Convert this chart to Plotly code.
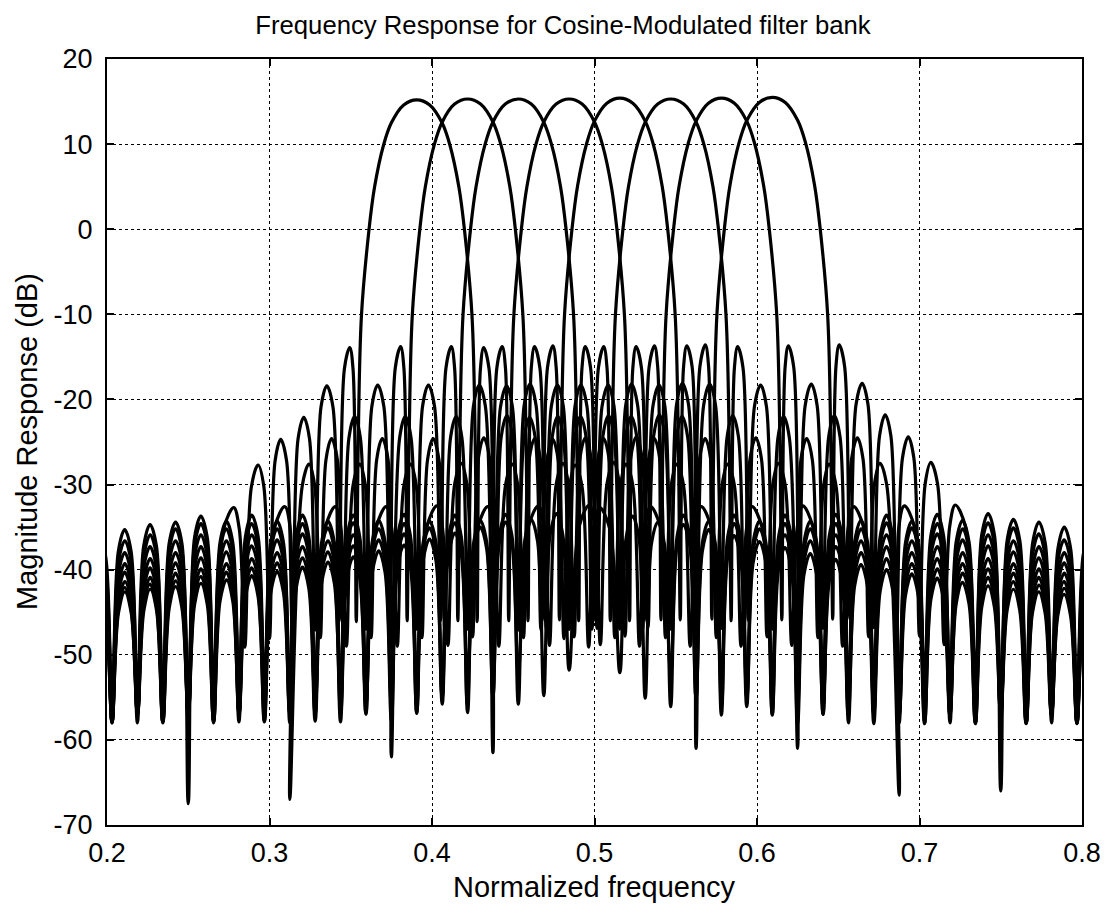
import plotly.graph_objects as go

# ---- data ----
# centre frequency and peak gain of each of the 8 plotted channel filters
centers = [0.3906, 0.4219, 0.4531, 0.4844, 0.5156, 0.5469, 0.5781, 0.6094]
peak_db = [15.2, 15.3, 15.3, 15.3, 15.4, 15.3, 15.4, 15.5]

# common (prototype) response, one side, as offset from the filter centre
main_offset = [0.0000, 0.0080, 0.0156, 0.0204, 0.0260, 0.0294, 0.0340, 0.0360, 0.0372]
main_db = [15.3, 14.7, 12.6, 10.0, 5.0, 0.0, -10.0, -25.0, -46.0]

# transition-band side lobes (peak, shoulder level, following null)
near_peak_offset = [0.0412, 0.0553, 0.0695, 0.0837, 0.0976, 0.1126]
near_peak_db = [-13.8, -18.3, -22.0, -24.6, -27.6, -32.6]
near_shoulder_db = [-16.3, -20.8, -24.5, -27.1, -30.1, -35.1]
near_null_offset = [0.0478, 0.0625, 0.0765, 0.0906, 0.1058, 0.1250]
near_null_db = [-46.0, -47.0, -47.0, -48.0, -49.0, -52.0]

# stop-band side lobes
far_peak_offset = [0.1328, 0.1484, 0.1641, 0.1797, 0.1953, 0.2109, 0.2266, 0.2422,
                   0.2578, 0.2734, 0.2891, 0.3047, 0.3203, 0.3359, 0.3516, 0.3672,
                   0.3828, 0.3984, 0.4141, 0.4297]
far_peak_db = [-33.6, -34.3, -34.6, -35.2, -35.9, -36.6, -37.3, -38.0, -38.7, -39.3,
               -39.9, -40.4, -40.9, -41.4, -41.8, -42.2, -42.5, -42.8, -43.0, -43.2]
far_shoulder_db = [-36.1, -36.8, -37.1, -37.7, -38.4, -39.1, -39.8, -40.5, -41.2, -41.8,
                   -42.4, -42.9, -43.4, -43.9, -44.3, -44.7, -45.0, -45.3, -45.5, -45.7]
far_null_offset = [0.1406, 0.1563, 0.1719, 0.1875, 0.2031, 0.2188, 0.2344, 0.2500,
                   0.2656, 0.2813, 0.2969, 0.3125, 0.3281, 0.3438, 0.3594, 0.3750,
                   0.3906, 0.4063, 0.4219, 0.4375]
far_null_db = [-55.0, -56.0, -55.0, -57.0, -56.0, -57.0, -58.0, -56.0, -57.0, -58.0,
               -57.0, -58.0, -57.0, -58.0, -57.0, -58.0, -57.0, -58.0, -57.0, -58.0]

# isolated deep notches, one per filter
deep_null_x = [0.2500, 0.3125, 0.3750, 0.4375, 0.5625, 0.6250, 0.6875, 0.7500]
deep_null_db = [-67.5, -67.0, -62.0, -61.5, -61.0, -61.0, -66.5, -66.0]

x_ticks = [0.2, 0.3, 0.4, 0.5, 0.6, 0.7, 0.8]
y_ticks = [-70, -60, -50, -40, -30, -20, -10, 0, 10, 20]

# ---- assemble the one-sided prototype (side lobes: shoulder, peak, shoulder, null) ----
proto_off = list(main_offset)
proto_db = list(main_db)
lobe_po = near_peak_offset + far_peak_offset
lobe_pd = near_peak_db + far_peak_db
lobe_sd = near_shoulder_db + far_shoulder_db
lobe_no = near_null_offset + far_null_offset
lobe_nd = near_null_db + far_null_db
for po, pd_, sd, no, nd in zip(lobe_po, lobe_pd, lobe_sd, lobe_no, lobe_nd):
    left_null = proto_off[-1]
    proto_off += [(left_null + po) / 2, po, (po + no) / 2, no]
    proto_db += [sd, pd_, sd, nd]

# two-sided
two_off = [-o for o in reversed(proto_off[1:])] + proto_off
two_db = list(reversed(proto_db[1:])) + proto_db
null_idx = set(j for j in range(1, len(two_db) - 1)
               if two_db[j] < two_db[j - 1] and two_db[j] < two_db[j + 1])

FONT = "Liberation Sans, Arial, Helvetica, sans-serif"

fig = go.Figure()
for i, c in enumerate(centers):
    xs = [c + o for o in two_off]
    ys = [d + (peak_db[i] - main_db[0]) for d in two_db]
    # this filter's deep notch sits on its nearest null
    best = min(null_idx, key=lambda j: abs(xs[j] - deep_null_x[i]))
    xs[best] = deep_null_x[i]
    ys[best] = deep_null_db[i]
    keep = [(x, y) for x, y in zip(xs, ys) if 0.17 <= x <= 0.83]
    fig.add_trace(go.Scatter(
        x=[k[0] for k in keep], y=[k[1] for k in keep], mode="lines",
        line=dict(color="black", width=3.2, shape="spline", smoothing=1.0),
        showlegend=False, hoverinfo="skip"))

axis_common = dict(
    showline=True, linecolor="black", linewidth=2, mirror="allticks",
    ticks="inside", ticklen=7, tickcolor="black", tickwidth=1.5,
    showgrid=True, gridcolor="black", gridwidth=1, griddash="dot",
    zeroline=False, automargin=False,
    tickfont=dict(family=FONT, size=27, color="black"),
)

fig.update_layout(
    width=1107, height=899,
    margin=dict(l=99, r=33, t=51, b=82),
    paper_bgcolor="white", plot_bgcolor="white",
    title=dict(text="Frequency Response for Cosine-Modulated filter bank",
               xref="container", x=555 / 1107, xanchor="center",
               yref="container", y=1 - 17 / 899, yanchor="middle",
               font=dict(family=FONT, size=25.7, color="black")),
    xaxis=dict(range=[0.2, 0.8], tickvals=x_ticks, ticktext=[f"{v:g}" for v in x_ticks],
               ticklabelstandoff=3, **axis_common),
    yaxis=dict(range=[-70, 20], tickvals=y_ticks, ticktext=[str(v) for v in y_ticks],
               ticklabelstandoff=7, **axis_common),
    annotations=[
        dict(text="Normalized frequency", xref="paper", yref="paper", x=0.5, y=0,
             xanchor="center", yanchor="middle", yshift=-62, showarrow=False,
             font=dict(family=FONT, size=29, color="black")),
        dict(text="Magnitude Response (dB)", xref="paper", yref="paper", x=0, y=0.5,
             xanchor="center", yanchor="middle", xshift=-80, textangle=-90,
             showarrow=False, font=dict(family=FONT, size=29, color="black")),
    ],
)

fig.write_html("out.html")
